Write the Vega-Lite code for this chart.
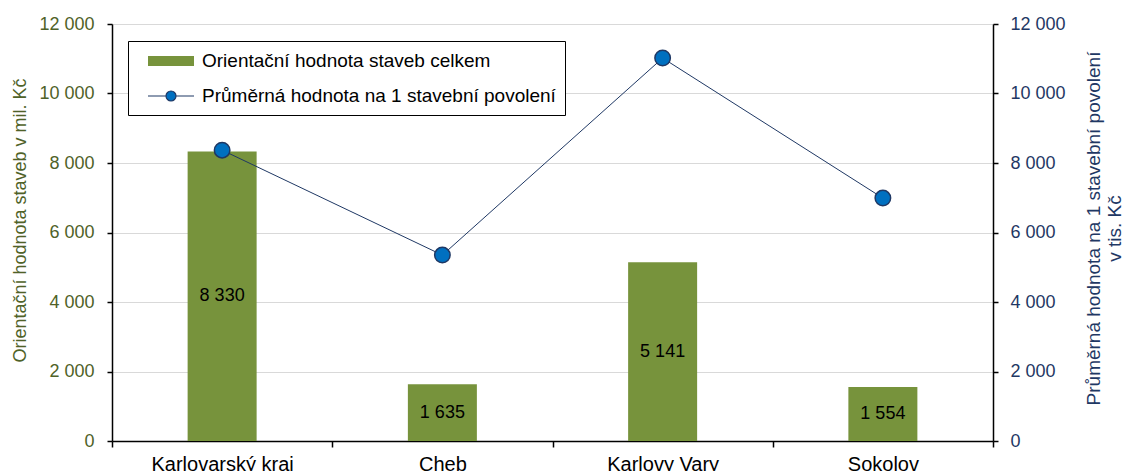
{
  "$schema": "https://vega.github.io/schema/vega-lite/v6.json",
  "width": 881,
  "height": 417,
  "autosize": "none",
  "padding": {"left": 112, "top": 24, "right": 130, "bottom": 30},
  "config": {
    "font": "Liberation Sans",
    "view": {"stroke": null},
    "locale": {"number": {"decimal": ",", "thousands": " ", "grouping": [3], "currency": ["", " Kč"]}}
  },
  "data": {
    "values": [
      {"region": "Karlovarský kraj", "celkem": 8330, "prumer": 8370},
      {"region": "Cheb", "celkem": 1635, "prumer": 5350},
      {"region": "Karlovy Vary", "celkem": 5141, "prumer": 11020},
      {"region": "Sokolov", "celkem": 1554, "prumer": 6990}
    ]
  },
  "encoding": {
    "x": {
      "field": "region",
      "type": "nominal",
      "sort": null,
      "scale": {"paddingInner": 0, "paddingOuter": 0},
      "axis": {
        "title": null,
        "labelAngle": 0,
        "labelFontSize": 20,
        "labelColor": "black",
        "tickBand": "extent",
        "tickColor": "black",
        "domainColor": "black",
        "tickSize": 6,
        "labelPadding": 7,
        "domainWidth": 1.5,
        "tickWidth": 1.5,
        "grid": false
      }
    }
  },
  "layer": [
    {
      "mark": {"type": "bar", "size": 69},
      "encoding": {
        "y": {
          "field": "celkem",
          "type": "quantitative",
          "scale": {"domain": [0, 12000]},
          "axis": {
            "orient": "left",
            "title": "Orientační hodnota staveb v mil. Kč",
            "titleFontSize": 18,
            "titleFontWeight": "normal",
            "titleColor": "#4f6228",
            "titleX": -92,
            "titleY": 196,
            "titleAngle": 270,
            "titleBaseline": "middle",
            "labelFontSize": 18,
            "labelColor": "#4f6228",
            "values": [0, 2000, 4000, 6000, 8000, 10000, 12000],
            "format": ",d",
            "tickColor": "black",
            "domainColor": "black",
            "domainWidth": 1.5,
            "tickWidth": 1.5,
            "tickSize": 5,
            "labelPadding": 13,
            "grid": true,
            "gridColor": "#d9d9d9",
            "gridWidth": 1
          }
        },
        "color": {
          "datum": "Orientační hodnota staveb celkem",
          "type": "nominal",
          "scale": {
            "domain": ["Orientační hodnota staveb celkem", "Průměrná hodnota na 1 stavební povolení"],
            "range": ["#77933c", "#0070c0"]
          },
          "legend": {
            "title": null,
            "orient": "none",
            "legendX": 16,
            "legendY": 17,
            "strokeColor": "black",
            "fillColor": "white",
            "padding": 9,
            "labelFontSize": 19,
            "labelColor": "black",
            "labelLimit": 600,
            "rowPadding": 14,
            "labelOffset": 43,
            "symbolSize": 400,
            "encode": {
              "symbols": {
                "update": {
                  "shape": {"signal": "datum.value === 'Orientační hodnota staveb celkem' ? 'M0,-0.5H4.6V0.5H0Z' : 'M0,0H1.8M2.8,0H4.6M1.8,0A0.5,0.5 0 1,0 2.8,0A0.5,0.5 0 1,0 1.8,0Z'"},
                  "stroke": {"signal": "datum.value === 'Orientační hodnota staveb celkem' ? null : '#1f3864'"},
                  "strokeWidth": {"value": 1.2},
                  "size": {"value": 400}
                }
              }
            }
          }
        }
      }
    },
    {
      "mark": {"type": "text", "fontSize": 18, "color": "black"},
      "encoding": {
        "y": {"field": "celkem", "type": "quantitative", "scale": {"domain": [0, 24000]}, "axis": null},
        "text": {"field": "celkem", "type": "quantitative", "format": ",d"}
      }
    },
    {
      "encoding": {
        "y": {
          "field": "prumer",
          "type": "quantitative",
          "scale": {"domain": [0, 12000]},
          "axis": {
            "orient": "right",
            "title": ["Průměrná hodnota na 1 stavební povolení", "v tis. Kč"],
            "titleFontSize": 19,
            "titleFontWeight": "normal",
            "titleColor": "#1f3864",
            "titleAngle": 270,
            "titleX": 100,
            "titleY": 204,
            "titleBaseline": "middle",
            "titleLineHeight": 21,
            "labelFontSize": 18,
            "labelColor": "#1f3864",
            "values": [0, 2000, 4000, 6000, 8000, 10000, 12000],
            "format": ",d",
            "tickColor": "black",
            "domainColor": "black",
            "domainWidth": 1.5,
            "tickWidth": 1.5,
            "tickSize": 5,
            "labelPadding": 12,
            "grid": false
          }
        }
      },
      "layer": [
        {"mark": {"type": "line", "color": "#1f3864", "strokeWidth": 1}},
        {
          "mark": {"type": "point", "filled": true, "size": 240, "stroke": "#1f3864", "strokeWidth": 1.5, "opacity": 1},
          "encoding": {
            "color": {"datum": "Průměrná hodnota na 1 stavební povolení", "type": "nominal"}
          }
        }
      ]
    }
  ],
  "resolve": {"scale": {"y": "independent"}}
}
